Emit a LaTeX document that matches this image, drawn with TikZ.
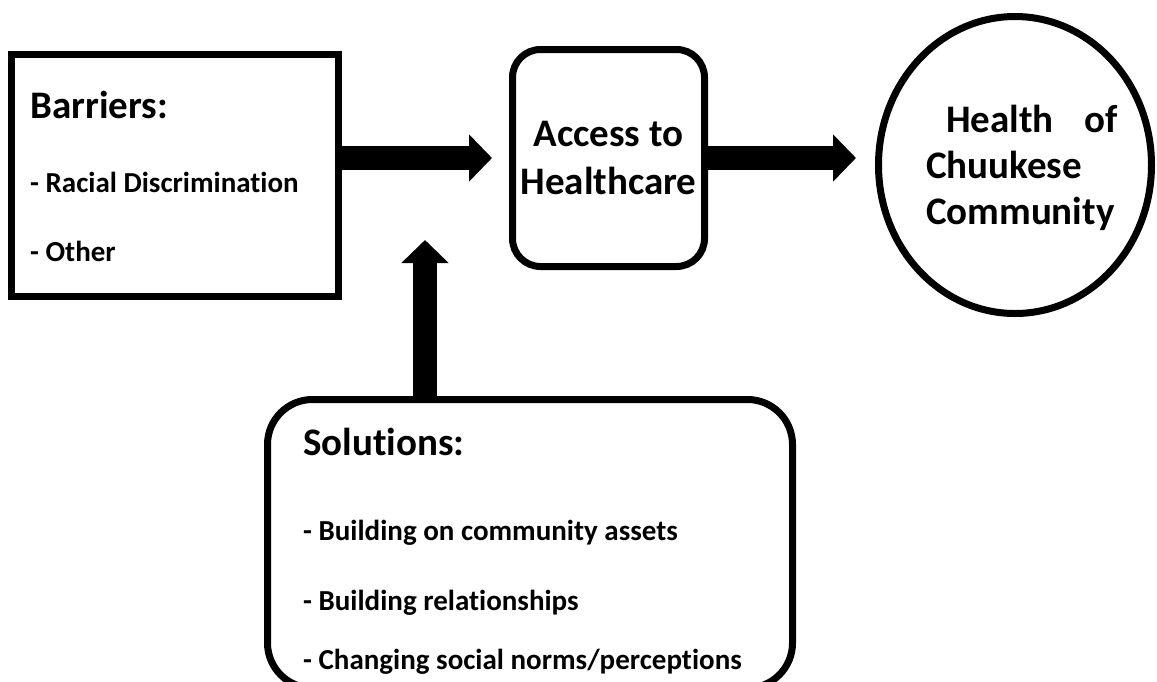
\documentclass[tikz,border=0pt]{standalone}
\usepackage{fontspec}
\setmainfont{Carlito}[Ligatures=NoCommon]
\usetikzlibrary{arrows.meta,shapes.geometric}
\begin{document}
\begin{tikzpicture}[x=1pt,y=-1pt,
  box/.style={draw, line width=7pt, inner sep=0pt},
  bigtext/.style={font=\fontsize{39}{48}\selectfont\bfseries, inner sep=0pt},
  smalltext/.style={font=\fontsize{29}{32}\selectfont\bfseries, inner sep=0pt, anchor=base west},
  fatarrow/.style={line width=24pt, -{Triangle[width=46pt,length=23pt]}},
]
\useasboundingbox (0,0) rectangle (1157,681);
% Barriers
\node[box, minimum width=327pt, minimum height=242pt] (barriers) at (175,175.5) {};
\node[bigtext, anchor=base west] (btitle) at (30,118) {Barriers:};
\node[smalltext] (b1) at (30,192) {- Racial Discrimination};
\node[smalltext] (b2) at (30,261) {- Other};
% Access
\node[box, rounded corners=28pt, minimum width=192pt, minimum height=217pt,
      bigtext, align=center, draw, line width=7pt] (access) at (608.5,158) {Access to\\Healthcare};
% Health
\node[box, ellipse, minimum width=273pt, minimum height=297pt] (health) at (1015,165) {};
\node[bigtext, text width=192pt, align=left, font=\fontsize{39}{46}\selectfont\bfseries] (htext) at (1022,168)
  {\hspace*{20pt}Health\hfill of\\Chuukese\\Community};
% Solutions
\node[box, rounded corners=45pt, minimum width=525pt, minimum height=288.5pt] (solutions) at (530,543.75) {};
\node[bigtext, anchor=base west] (stitle) at (303,455) {Solutions:};
\node[smalltext] (s1) at (303,540) {- Building on community assets};
\node[smalltext] (s2) at (303,610) {- Building relationships};
\node[smalltext] (s3) at (303,669) {- Changing social norms/perceptions};
% Arrows
\coordinate (vtip) at (425,240);
\draw[fatarrow, shorten >=17pt] (barriers.east |- access.west) -- (access.west);
\draw[fatarrow, shorten >=19pt] (access.east) -- (access.east -| health.west);
\draw[fatarrow] (solutions.north -| vtip) -- (vtip);
\end{tikzpicture}
\end{document}
